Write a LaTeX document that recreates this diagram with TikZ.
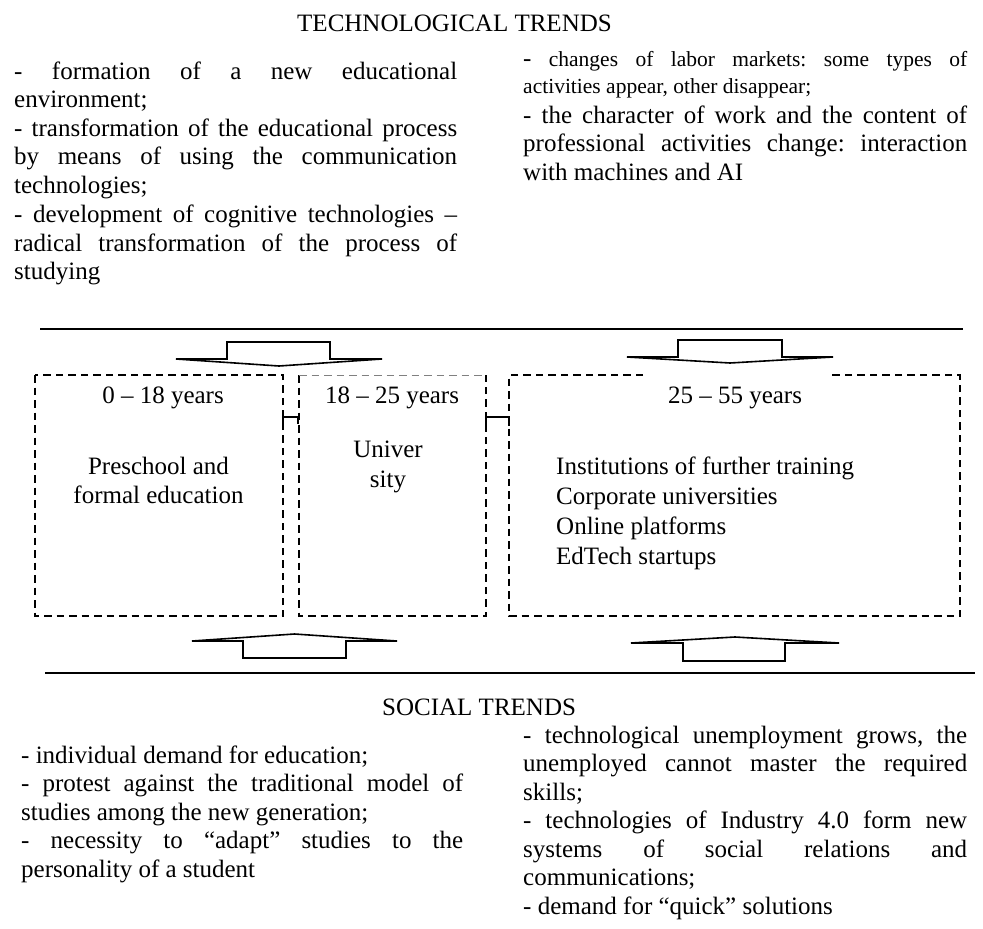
\documentclass[tikz,border=0pt]{standalone}
\usepackage{fontspec}
\setmainfont{Liberation Serif}
\frenchspacing
\tikzset{
  txt/.style={anchor=base west, inner sep=0pt, font=\fontsize{25}{28.5}\selectfont},
  sml/.style={anchor=base west, inner sep=0pt, font=\fontsize{21.5}{25}\selectfont},
  ctr/.style={anchor=base, inner sep=0pt, font=\fontsize{25}{30}\selectfont},
  dbox/.style={line width=1.4pt, dash pattern=on 7.5pt off 5pt},
  lbox/.style={line width=0.8pt, gray, dash pattern=on 7.5pt off 5pt},
  blockarrow/.style={draw, fill=white, line width=1.6pt, line join=miter},
  rule/.style={line width=2pt},
  brk/.style={line width=1.4pt},
}
\newcommand{\jst}[2]{\makebox[#1pt][s]{#2}}
\begin{document}
\begin{tikzpicture}[x=1pt,y=-1pt]
\useasboundingbox (0,0) rectangle (983,929);

% ---------- titles
\node[txt] (ttech) at (297,31) {TECHNOLOGICAL TRENDS};
\node[txt] (tsoc) at (382,715) {SOCIAL TRENDS};

% ---------- technological trends, left
\node[txt] (tl1) at (14,79)  {\jst{443}{- formation of a new educational}};
\node[txt] (tl2) at (14,107.5)   {environment;};
\node[txt] (tl3) at (14,136) {\jst{443}{- transformation of the educational process}};
\node[txt] (tl4) at (14,164.5)   {\jst{443}{by means of using the communication}};
\node[txt] (tl5) at (14,193) {technologies;};
\node[txt] (tl6) at (14,222)   {\jst{443}{- development of cognitive technologies –}};
\node[txt] (tl7) at (14,251) {\jst{443}{radical transformation of the process of}};
\node[txt] (tl8) at (14,279.5)   {studying};

% ---------- technological trends, right
\node[sml] (tr1) at (523,66)    {\jst{444}{\fontsize{25}{28.5}\selectfont-\fontsize{21.5}{25}\selectfont{} changes of labor markets: some types of}};
\node[sml] (tr2) at (523,93.5)  {activities appear, other disappear;};
\node[txt] (tr3) at (523,123)   {\jst{444}{- the character of work and the content of}};
\node[txt] (tr4) at (523,151.5) {\jst{444}{professional activities change: interaction}};
\node[txt] (tr5) at (523,180)   {with machines and AI};

% ---------- rules
\coordinate (r1a) at (40,329);  \coordinate (r1b) at (963,329);
\coordinate (r2a) at (45,673);  \coordinate (r2b) at (975,673);
\draw[rule] (r1a) -- (r1b);
\draw[rule] (r2a) -- (r2b);

% ---------- boxes
\draw[dbox] (35,375) rectangle (283,616);
\draw[dbox] (299,375) -- (299,616) -- (486,616) -- (486,375);
\draw[lbox] (299,375) -- (486,375);
\draw[dbox] (643,375) -- (509,375) -- (509,616) -- (960,616) -- (960,375) -- (828,375);

% connectors between boxes
\draw[brk] (283,423) -- (283,417) -- (298,417) -- (298,424);
\draw[brk] (486,426) -- (486,417) -- (509,417) -- (509,426);

% box texts
\node[ctr] (y1) at (163,403) {0 – 18 years};
\node[ctr] (y2) at (392,403) {18 – 25 years};
\node[ctr] (y3) at (735,403) {25 – 55 years};
\node[ctr] (b1a) at (158.5,474) {Preschool and};
\node[ctr] (b1b) at (158.5,503) {formal education};
\node[ctr] (b2a) at (388,457) {Univer};
\node[ctr] (b2b) at (388,487) {sity};
\node[txt] (b3a) at (556,474) {Institutions of further training};
\node[txt] (b3b) at (556,504) {Corporate universities};
\node[txt] (b3c) at (556,534) {Online platforms};
\node[txt] (b3d) at (556,564) {EdTech startups};

% ---------- block arrows (down)
\draw[blockarrow] (227,342) -- (330,342) -- (330,359) -- (382,359) -- (279,366) -- (176,359) -- (227,359) -- cycle;
\draw[blockarrow] (678,340) -- (782,340) -- (782,357) -- (833,357) -- (730,363) -- (627,357) -- (678,357) -- cycle;
% ---------- block arrows (up)
\draw[blockarrow] (243,658) -- (346,658) -- (346,641) -- (397,641) -- (294.5,634) -- (192,641) -- (243,641) -- cycle;
\draw[blockarrow] (683,661) -- (785,661) -- (785,643) -- (839,643) -- (735,637) -- (631,643) -- (683,643) -- cycle;

% ---------- social trends, left
\node[txt] (sl1) at (21,763)   {- individual demand for education;};
\node[txt] (sl2) at (21,791.5) {\jst{442}{- protest against the traditional model of}};
\node[txt] (sl3) at (21,820)   {studies among the new generation;};
\node[txt] (sl4) at (21,848.5) {\jst{442}{- necessity to “adapt” studies to the}};
\node[txt] (sl5) at (21,877)   {personality of a student};

% ---------- social trends, right
\node[txt] (sr1) at (523,743)   {\jst{444}{- technological unemployment grows, the}};
\node[txt] (sr2) at (523,771.5) {\jst{444}{unemployed cannot master the required}};
\node[txt] (sr3) at (523,800)   {skills;};
\node[txt] (sr4) at (523,828.5) {\jst{444}{- technologies of Industry 4.0 form new}};
\node[txt] (sr5) at (523,857)   {\jst{444}{systems of social relations and}};
\node[txt] (sr6) at (523,885.5) {communications;};
\node[txt] (sr7) at (523,914)   {- demand for “quick” solutions};
\end{tikzpicture}
\end{document}
